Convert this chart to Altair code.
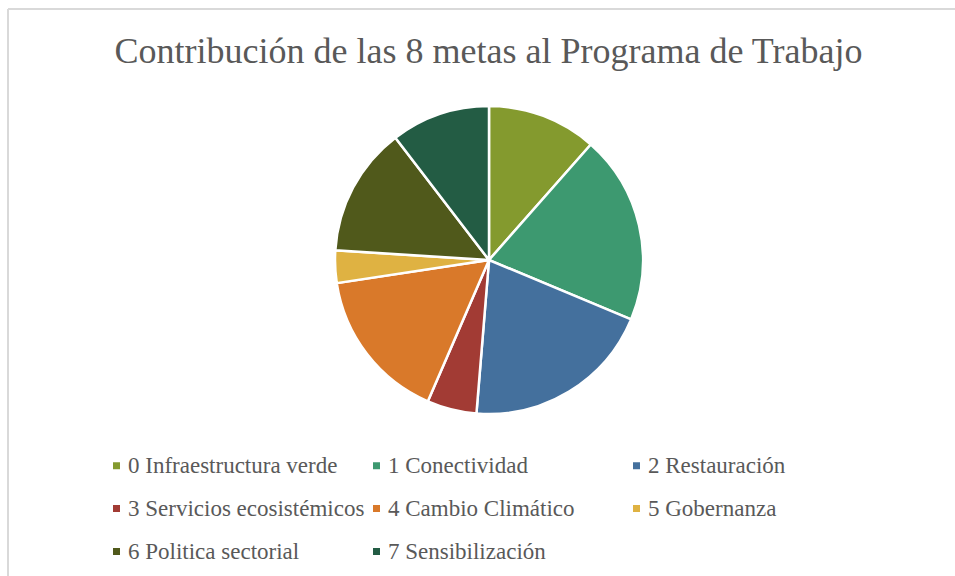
import altair as alt
import pandas as pd

metas = [
    "0 Infraestructura verde",
    "1 Conectividad",
    "2 Restauración",
    "3 Servicios ecosistémicos",
    "4 Cambio Climático",
    "5 Gobernanza",
    "6 Politica sectorial",
    "7 Sensibilización",
]
valores = [11.5, 19.8, 20.0, 5.2, 16.1, 3.4, 13.6, 10.4]
colores = ["#849A2E", "#3D9970", "#44709D", "#A23B34", "#D9792A", "#DFB242", "#50591B", "#235C44"]
# legend is filled column by column: reorder so rows read 0-1-2 / 3-4-5 / 6-7
orden_leyenda = [metas[i] for i in [0, 3, 6, 1, 4, 7, 2, 5]]

df = pd.DataFrame({"meta": metas, "valor": valores, "orden": list(range(len(metas)))})

FONT = "Liberation Serif"
TOP = 9

pie = alt.Chart(df).mark_arc(outerRadius=154, stroke="white", strokeWidth=2.5).encode(
    theta=alt.Theta("valor:Q", stack=True),
    order=alt.Order("orden:Q"),
    color=alt.Color(
        "meta:N",
        scale=alt.Scale(domain=metas, range=colores),
        legend=alt.Legend(
            title=None,
            values=orden_leyenda,
            orient="none",
            legendX=105,
            legendY=445,
            columns=3,
            gridAlign="all",
            columnPadding=-8,
            rowPadding=19,
            symbolType="square",
            symbolSize=49,
            symbolStrokeWidth=0,
            labelFont=FONT,
            labelFontSize=23,
            labelColor="#595959",
            labelOffset=0,
            labelLimit=400,
        ),
    ),
    x=alt.value(489),
    y=alt.value(260 - TOP),
)

border_top = alt.Chart(df).mark_rule(color="#d9d9d9", strokeWidth=1.5).encode(
    x=alt.value(8), x2=alt.value(955), y=alt.value(0)
)
border_left = alt.Chart(df).mark_rule(color="#d9d9d9", strokeWidth=1.5).encode(
    x=alt.value(8), y=alt.value(0), y2=alt.value(576)
)

chart = alt.layer(border_top, border_left, pie).properties(
    width=955,
    height=576 - TOP,
    padding={"left": 0, "top": TOP, "right": 0, "bottom": 0},
    autosize=alt.AutoSizeParams(type="none"),
    title=alt.TitleParams(
        "Contribución de las 8 metas al Programa de Trabajo",
        font=FONT,
        fontSize=36,
        fontWeight="normal",
        color="#595959",
        anchor="middle",
        baseline="alphabetic",
        offset=-91,
        dx=11,
    ),
).configure_view(stroke=None)

chart.save("out.html", embed_options={"renderer": "svg", "actions": False})
